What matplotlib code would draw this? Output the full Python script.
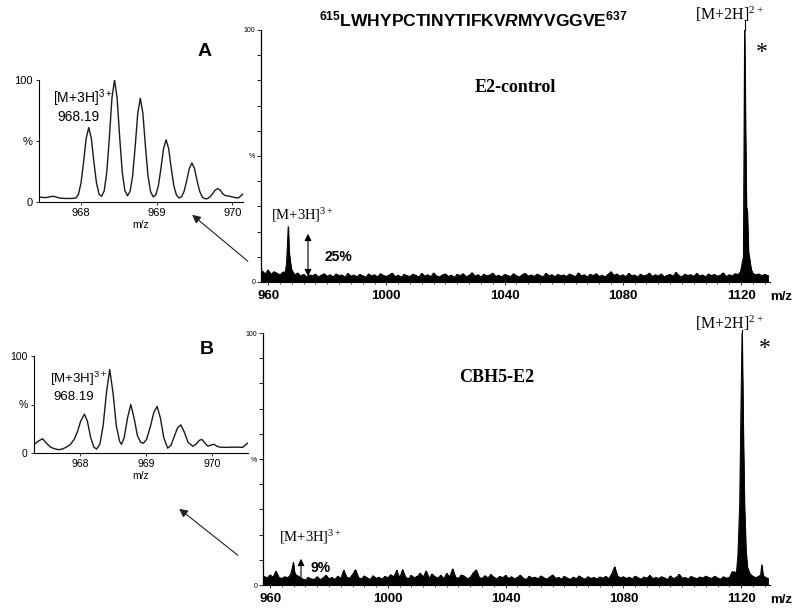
import numpy as np
import matplotlib
matplotlib.use('Agg')
import matplotlib.pyplot as plt
from matplotlib.ticker import MultipleLocator
from matplotlib.patches import FancyArrowPatch

plt.rcParams['mathtext.fontset'] = 'custom'
plt.rcParams['mathtext.rm'] = 'Liberation Sans:bold'
plt.rcParams['mathtext.it'] = 'Liberation Sans:italic:bold'
plt.rcParams['mathtext.bf'] = 'Liberation Sans:bold'

# ---------------- data ----------------
main_xticks = [960, 1000, 1040, 1080, 1120]
inset_xticks = [968, 969, 970]
noise_start, noise_stop = 958, 1129  # 1 m/z grid of baseline noise

noise_top = [
    4.4, 3.2, 4.8, 3.0, 4.1, 3.5, 2.8, 3.9, 3.1, 4.0,
    3.2, 2.7, 3.6, 2.4, 3.0, 2.1, 2.8, 2.5, 3.1, 2.0,
    2.7, 3.3, 2.2, 2.9, 2.0, 3.2, 2.5, 2.8, 1.9, 3.4,
    2.3, 2.8, 2.1, 3.0, 2.5, 1.9, 3.2, 2.4, 2.9, 2.0,
    3.3, 2.6, 2.2, 2.8, 3.5, 2.1, 2.7, 1.9, 3.0, 2.5,
    2.2, 3.1, 2.6, 2.0, 3.4, 2.3, 2.9, 2.1, 3.6, 2.4,
    2.0, 2.8, 3.2, 2.2, 2.7, 1.9, 3.0, 2.5, 3.3, 2.1,
    2.6, 3.7, 2.3, 2.9, 2.0, 3.1, 2.4, 2.8, 3.5, 2.2,
    2.7, 2.0, 3.0, 2.6, 2.1, 3.3, 2.5, 2.0, 2.9, 3.4,
    2.3, 2.8, 2.2, 3.1, 2.6, 2.0, 3.5, 2.4, 2.9, 2.1,
    3.0, 2.5, 2.8, 2.2, 3.2, 2.6, 2.1, 3.6, 2.4, 2.9,
    2.0, 3.1, 2.5, 3.3, 2.2, 2.7, 2.0, 3.0, 4.1, 2.6,
    3.2, 2.3, 2.9, 2.1, 3.4, 2.5, 2.8, 2.0, 3.1, 2.4,
    2.7, 3.5, 2.2, 2.9, 2.4, 3.2, 2.0, 2.6, 3.0, 2.3,
    3.8, 2.5, 2.1, 3.1, 2.6, 2.9, 2.2, 3.4, 2.4, 2.8,
    2.0, 3.2, 2.5, 3.0, 2.3, 2.7, 3.6, 2.1, 2.9, 2.4,
    3.3, 3.0, 3.8, 4.5, 5.0, 4.2, 3.4, 2.8, 3.2, 2.5,
    3.0, 2.6,
]
noise_bot = [
    3.4, 2.8, 4.0, 3.1, 5.5, 3.0, 2.6, 3.3, 2.9, 3.5,
    3.0, 2.7, 3.2, 2.4, 2.0, 3.0, 2.4, 2.2, 3.3, 2.1,
    2.8, 3.9, 2.4, 3.0, 2.2, 3.5, 2.6, 5.8, 3.1, 2.7,
    4.2, 6.0, 3.0, 2.4, 3.6, 2.8, 2.2, 3.7, 2.6, 3.1,
    2.3, 3.4, 2.9, 4.1, 3.2, 5.8, 2.7, 6.1, 3.0, 2.5,
    3.8, 2.9, 3.4, 4.7, 3.1, 5.6, 2.6, 4.4, 3.3, 2.8,
    3.9, 2.5, 4.6, 3.2, 6.4, 3.0, 2.7, 4.0, 3.5, 2.4,
    3.1, 4.8, 6.0, 3.0, 2.6, 3.7, 2.8, 4.2, 3.1, 2.5,
    3.4, 2.9, 3.8, 2.6, 3.3, 2.4, 3.0, 3.9, 2.7, 2.2,
    3.5, 2.8, 3.1, 2.5, 3.6, 2.9, 2.3, 3.2, 4.0, 2.6,
    3.0, 2.4, 3.4, 2.7, 2.2, 3.1, 2.5, 3.6, 2.8, 2.3,
    3.3, 2.6, 3.0, 2.4, 3.2, 2.7, 3.4, 2.5, 4.3, 7.2,
    3.6, 2.8, 3.3, 2.6, 3.1, 2.4, 3.5, 2.9, 2.3, 3.2,
    2.7, 3.8, 2.5, 3.0, 2.6, 3.3, 2.8, 2.2, 3.6, 2.5,
    3.1, 4.2, 2.7, 3.0, 2.4, 3.4, 2.9, 2.5, 3.2, 2.8,
    3.5, 3.0, 2.6, 3.5, 2.8, 2.3, 3.3, 2.7, 3.0, 5.3,
    4.4, 5.0, 6.5, 7.0, 6.0, 4.4, 3.4, 2.9, 3.5, 3.0,
    3.2, 2.6,
]

# isotope clusters (m/z, relative intensity %)
top_peak3_mz = [965.8, 966.2, 966.5, 966.8, 967.1, 967.5, 967.9]
top_peak3_int = [4, 7, 14, 22, 12, 8, 5]
top_peak2_mz = [1119.8, 1120.3, 1120.8, 1121.2, 1121.5, 1121.8, 1122.1, 1122.5, 1122.9, 1123.4]
top_peak2_int = [4, 7, 10, 100, 62, 30, 28, 12, 9, 5]

bot_peak3_mz = [966.9, 967.4, 967.9, 968.3, 968.8]
bot_peak3_int = [4, 6, 9, 5, 4]
bot_peak2_mz = [1118.4, 1118.9, 1119.5, 1119.9, 1120.3, 1120.7, 1121.1, 1121.6, 1122.1]
bot_peak2_int = [5, 12, 32, 68, 100, 62, 32, 14, 7]
bot_small_mz = [1126.6, 1127.0, 1127.4]
bot_small_int = [4, 8, 4]

# inset A profile (zoom of the [M+3H]3+ isotope envelope)
insetA_mz = [967.426 + 0.034 * i for i in range(81)]
insetA_int = [
    4.0, 4.0, 3.8, 3.6, 3.8, 4.3, 4.7, 4.3, 3.6, 3.2,
    3.0, 2.9, 2.9, 2.9, 3.0, 3.3, 6.3, 15.6, 32.7, 52.2,
    61.0, 52.2, 32.7, 15.6, 6.3, 4.7, 9.2, 24.5, 53.0, 85.3,
    100.0, 85.3, 53.0, 24.5, 9.5, 5.1, 8.5, 21.1, 45.2, 72.6,
    85.0, 72.6, 45.2, 21.1, 8.3, 4.2, 5.9, 13.3, 27.5, 43.7,
    51.0, 43.7, 27.5, 13.3, 5.7, 3.3, 4.2, 8.9, 17.6, 27.5,
    32.0, 27.5, 17.6, 8.9, 4.2, 2.7, 2.7, 4.1, 6.7, 9.7,
    11.0, 9.7, 6.7, 5.2, 5.0, 4.5, 4.0, 3.5, 3.3, 5.0,
    7.0,
]

# inset B profile
insetB_mz = [
    967.30, 967.36, 967.43, 967.49, 967.55, 967.61, 967.67, 967.73, 967.79, 967.85,
    967.91, 967.96, 968.01, 968.065, 968.11, 968.16, 968.21, 968.25, 968.30, 968.35,
    968.40, 968.45, 968.50, 968.55, 968.60, 968.63, 968.67, 968.72, 968.77, 968.82,
    968.87, 968.92, 968.96, 969.01, 969.07, 969.12, 969.17, 969.22, 969.27, 969.33,
    969.38, 969.43, 969.48, 969.53, 969.58, 969.64, 969.71, 969.76, 969.81, 969.85,
    969.90, 969.94, 969.98, 970.03, 970.08, 970.12, 970.20, 970.30, 970.40, 970.47,
    970.54,
]
insetB_int = [
    8.6, 12, 14.7, 10, 6, 4.5, 3.4, 4, 6, 8.6,
    14, 22, 33, 40, 33, 16, 6, 4, 9, 28,
    62, 86, 62, 28, 12, 9, 16, 36, 50, 36,
    18, 11, 10, 14, 28, 42, 48, 36, 16, 5,
    8, 17, 26, 29, 22, 11, 7, 9, 13, 14,
    10, 7, 8, 9, 7, 6, 5.8, 6, 6, 5.8,
    10,
]

# ---------------- figure ----------------
W, H = 800, 613
fig = plt.figure(figsize=(W / 100, H / 100), dpi=100)
SANS = ['Liberation Sans', 'DejaVu Sans']
SERIF = ['Liberation Serif', 'DejaVu Serif']


def fx(px):
    return px / W


def fy(py):
    return 1 - py / H


def add_ax(left, right, top, bottom):
    return fig.add_axes([fx(left), fy(bottom), (right - left) / W, (bottom - top) / H])


def main_panel(left, right, top, bottom, xlim, noise, clusters, mz_y):
    ax = add_ax(left, right, top, bottom)
    grid = np.arange(noise_start, noise_stop + 1, 1.0)
    noise = np.asarray(noise, float)
    pmz = np.concatenate([np.asarray(c[0], float) for c in clusters])
    pint = np.concatenate([np.asarray(c[1], float) for c in clusters])
    keep = np.ones(len(grid), bool)
    for c in clusters:
        keep &= ~((grid > min(c[0]) - 0.45) & (grid < max(c[0]) + 0.45))
    x = np.concatenate([grid[keep], pmz])
    y = np.concatenate([noise[keep], pint])
    o = np.argsort(x)
    ax.fill_between(x[o], 0, y[o], color='black', lw=0.6)
    ax.plot(x[o], y[o], color='black', lw=0.7)
    ax.vlines(grid[keep], 0, noise[keep], color='black', lw=1.1)
    ax.set_xlim(*xlim)
    ax.set_ylim(0, 100)
    for s in ['top', 'right']:
        ax.spines[s].set_visible(False)
    ax.spines['left'].set_linewidth(0.9)
    ax.spines['bottom'].set_linewidth(0.8)
    ax.set_yticks(np.arange(0, 101, 10))
    ylabels = [''] * 11
    ylabels[0], ylabels[5], ylabels[10] = '0', '%', '100'
    ax.set_yticklabels(ylabels, fontsize=5, family=SANS)
    ax.tick_params(axis='y', direction='out', length=3, width=0.6, pad=1)
    ax.set_xticks(main_xticks)
    ax.set_xticklabels([str(t) for t in main_xticks], fontsize=9.5,
                       fontweight='bold', family=SANS)
    ax.xaxis.set_minor_locator(MultipleLocator(4))
    ax.tick_params(axis='x', which='major', direction='out', length=2.5, width=0.6, pad=3)
    ax.tick_params(axis='x', which='minor', direction='out', length=1.5, width=0.5)
    fig.text(fx(781), fy(mz_y), 'm/z', ha='center', va='center',
             fontsize=9.5, fontweight='bold', family=SANS)
    return ax


def inset_panel(left, right, top, bottom, xlim, x, y, fs):
    ax = add_ax(left, right, top, bottom)
    ax.plot(x, y, color='#1a1a1a', lw=1.0)
    ax.set_xlim(*xlim)
    ax.set_ylim(0, 100)
    for s in ['top', 'right']:
        ax.spines[s].set_visible(False)
    for s in ['left', 'bottom']:
        ax.spines[s].set_linewidth(0.8)
    ax.set_yticks([0, 50, 100])
    ax.set_yticklabels(['0', '%', '100'], fontsize=fs, family=SANS)
    ax.set_xticks(inset_xticks)
    ax.set_xticklabels([str(t) for t in inset_xticks], fontsize=fs, family=SANS)
    ax.tick_params(direction='out', length=2.5, width=0.6, pad=2)
    ax.set_xlabel('m/z', fontsize=7.5, family=SANS, labelpad=1)
    return ax


axA = main_panel(261, 770, 30, 282, (957.6, 1129.8), noise_top,
                 [(top_peak3_mz, top_peak3_int), (top_peak2_mz, top_peak2_int)], 297)
axB = main_panel(263, 770, 333, 585, (957.6, 1129.8), noise_bot,
                 [(bot_peak3_mz, bot_peak3_int), (bot_peak2_mz, bot_peak2_int),
                  (bot_small_mz, bot_small_int)], 600)

insA = inset_panel(39, 243, 80, 202, (967.45, 970.14), insetA_mz, insetA_int, 8)
insB = inset_panel(34, 248, 356, 453, (967.3, 970.55), insetB_mz, insetB_int, 7.5)

# ---------------- text ----------------
fig.text(fx(473), fy(19),
         r'$\mathregular{^{615}LWHYPCTINYTIFKV}\mathit{R}\mathregular{MYVGGVE^{637}}$',
         ha='center', va='center', fontsize=12.5, fontweight='bold', family=SANS)
fig.text(fx(205), fy(52), 'A', ha='center', va='center', fontsize=14,
         fontweight='bold', family=SANS)
fig.text(fx(207), fy(350), 'B', ha='center', va='center', fontsize=14,
         fontweight='bold', family=SANS)
fig.text(fx(515), fy(88), 'E2-control', ha='center', va='center', fontsize=13,
         fontweight='bold', family=SERIF)
fig.text(fx(497), fy(377), 'CBH5-E2', ha='center', va='center', fontsize=13,
         fontweight='bold', family=SERIF)

lab2 = r'$\mathregular{[M{+}2H]^{2+}}$'
lab3 = r'$\mathregular{[M{+}3H]^{3+}}$'
fig.text(fx(729), fy(14), lab2, ha='center', va='center', fontsize=11.5, family=SERIF)
fig.text(fx(729), fy(323), lab2, ha='center', va='center', fontsize=11.5, family=SERIF)
fig.text(fx(762), fy(53), '*', ha='center', va='center', fontsize=17, family=SERIF)
fig.text(fx(765), fy(348), '*', ha='center', va='center', fontsize=17, family=SERIF)

# leader lines from label to peak apex
axA.plot([top_peak2_mz[3]] * 2, [100, 104], color='black', lw=0.8, clip_on=False)
axB.plot([bot_peak2_mz[4]] * 2, [100, 101], color='black', lw=0.8, clip_on=False)

fig.text(fx(303), fy(215), lab3, ha='center', va='center', fontsize=10.5, family=SERIF)
fig.text(fx(311), fy(537), lab3, ha='center', va='center', fontsize=10.5, family=SERIF)
fig.text(fx(338), fy(257), '25%', ha='center', va='center', fontsize=10,
         fontweight='bold', family=SANS)
fig.text(fx(321), fy(568), '9%', ha='center', va='center', fontsize=10,
         fontweight='bold', family=SANS)

# intensity arrows
fig.add_artist(FancyArrowPatch(
    (fx(308), fy(279)), (fx(308), fy(231)), transform=fig.transFigure,
    arrowstyle='<|-|>,head_length=4,head_width=2', color='black', lw=0.8))
fig.add_artist(FancyArrowPatch(
    (fx(301), fy(583)), (fx(301), fy(556)), transform=fig.transFigure,
    arrowstyle='-|>,head_length=4,head_width=2', color='black', lw=0.8))

# inset labels
fig.text(fx(83), fy(98), lab3, ha='center', va='center', fontsize=10, family=SANS)
fig.text(fx(78), fy(117), '968.19', ha='center', va='center', fontsize=10, family=SANS)
fig.text(fx(78), fy(379), lab3, ha='center', va='center', fontsize=9.5, family=SANS)
fig.text(fx(74), fy(397), '968.19', ha='center', va='center', fontsize=9.5, family=SANS)

# pointer arrows from spectrum to inset
fig.add_artist(FancyArrowPatch(
    (fx(250), fy(263)), (fx(190), fy(213)), transform=fig.transFigure,
    arrowstyle='-|>,head_length=5,head_width=2.5', color='#222222', lw=0.8))
fig.add_artist(FancyArrowPatch(
    (fx(240), fy(557)), (fx(177), fy(507)), transform=fig.transFigure,
    arrowstyle='-|>,head_length=5,head_width=2.5', color='#222222', lw=0.8))

fig.savefig('out.png', dpi=100, facecolor='white')
